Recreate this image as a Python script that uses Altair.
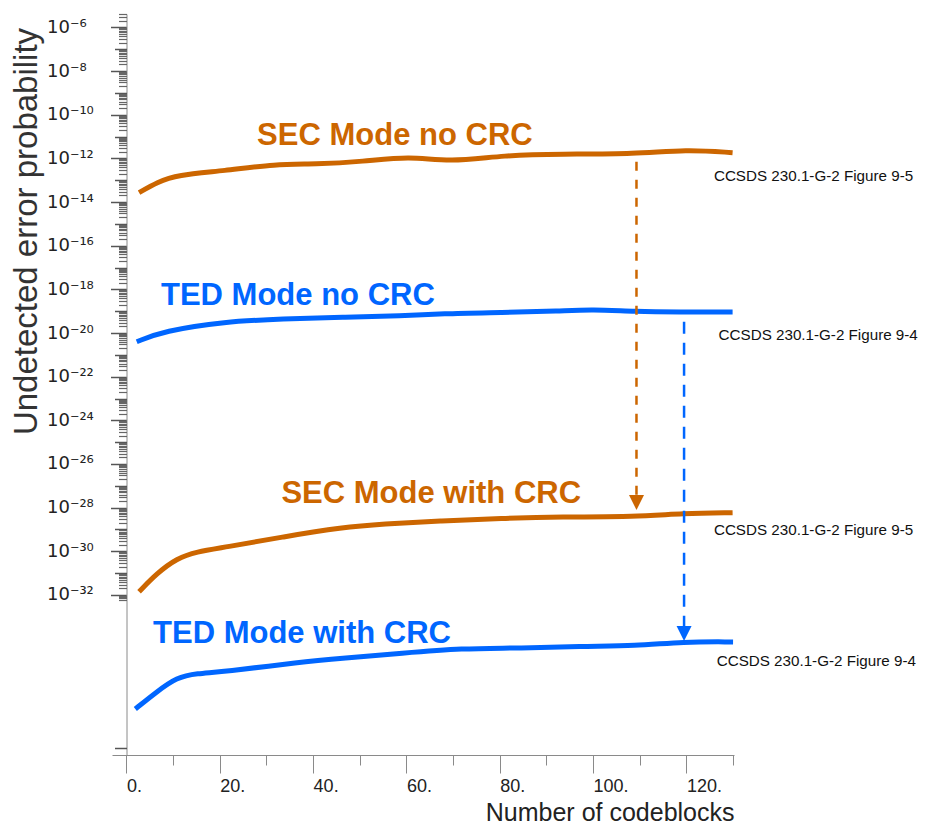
import altair as alt
import pandas as pd

# ---------------- data ----------------
series_names = ["SEC Mode no CRC", "TED Mode no CRC", "SEC Mode with CRC", "TED Mode with CRC"]
series_modes = ["SEC", "TED", "SEC", "TED"]

sec_no_crc_x = [2.7, 6.6, 10.8, 20.9, 32.0, 40.4, 50.6, 60.8, 69.2, 81.1, 93.0, 109.1, 120.0, 129.9]
sec_no_crc_p = [2.69e-14, 8.1e-14, 1.74e-13, 2.69e-13, 5.50e-13, 5.37e-13, 7.08e-13, 1.29e-12,
                6.61e-13, 1.41e-12, 1.58e-12, 1.58e-12, 2.60e-12, 1.82e-12]

ted_no_crc_x = [2.2, 7.9, 21.0, 33.6, 46.3, 59.2, 67.5, 80.2, 93.0, 99.7, 109.1, 118.3, 129.9]
ted_no_crc_p = [3.98e-21, 1.23e-20, 3.39e-20, 4.37e-20, 5.37e-20, 6.03e-20, 7.76e-20, 8.71e-20,
                1.02e-19, 1.20e-19, 9.55e-20, 9.12e-20, 9.12e-20]

sec_crc_x = [2.7, 6.5, 10.8, 15.0, 20.9, 33.7, 46.4, 54.8, 67.6, 80.3, 93.0, 109.1, 119.3, 129.9]
sec_crc_p = [1.41e-32, 9.77e-32, 4.79e-31, 9.55e-31, 1.51e-30, 4.68e-30, 1.26e-29, 1.78e-29,
             2.51e-29, 3.24e-29, 3.80e-29, 3.80e-29, 5.50e-29, 5.89e-29]

ted_crc_x = [1.9, 6.5, 10.8, 15.0, 20.9, 37.3, 46.4, 59.1, 71.8, 84.5, 97.2, 109.1, 119.3, 130.0]
ted_crc_p = [6.03e-38, 3.72e-37, 1.70e-36, 2.57e-36, 3.02e-36, 8.51e-36, 1.26e-35, 2.14e-35,
             3.63e-35, 3.63e-35, 4.57e-35, 4.57e-35, 7.24e-35, 7.08e-35]

# curve labels (text, x in codeblocks, probability at baseline)
curve_label_text = ["SEC Mode no CRC", "TED Mode no CRC", "SEC Mode with CRC", "TED Mode with CRC"]
curve_label_x = [28.0, 7.4, 33.2, 5.7]
curve_label_p = [4.07e-12, 1.91e-19, 1.58e-28, 6.17e-35]

# source notes
note_text = ["CCSDS 230.1-G-2 Figure 9-5", "CCSDS 230.1-G-2 Figure 9-4",
             "CCSDS 230.1-G-2 Figure 9-5", "CCSDS 230.1-G-2 Figure 9-4"]
note_x = [125.9, 126.9, 125.9, 126.5]
note_p = [9.12e-14, 4.79e-21, 5.62e-30, 5.62e-36]

# CRC improvement arrows (dashed shaft + head)
arrow_mode = ["SEC", "TED"]
arrow_x = [109.3, 119.5]
arrow_p_start = [7.08e-13, 3.31e-20]
arrow_p_end = [3.80e-28, 3.55e-34]
arrow_head_p = [1.74e-28, 1.74e-34]

# axis ticks
xtick_major = [0, 20, 40, 60, 80, 100, 120]
xtick_labels = ["0.", "20.", "40.", "60.", "80.", "100.", "120."]
xtick_minor = [10, 30, 50, 70, 90, 110, 130]

ytick_exp = [-6, -8, -10, -12, -14, -16, -18, -20, -22, -24, -26, -28, -30, -32]
ytick_labels = ["10⁻⁶", "10⁻⁸", "10⁻¹⁰", "10⁻¹²", "10⁻¹⁴", "10⁻¹⁶", "10⁻¹⁸",
                "10⁻²⁰", "10⁻²²", "10⁻²⁴", "10⁻²⁶", "10⁻²⁸", "10⁻³⁰", "10⁻³²"]
ytick_odd_exp = [-7, -9, -11, -13, -15, -17, -19, -21, -23, -25, -27, -29, -31, -39]

mode_domain = ["SEC", "TED"]
mode_colors = ["#CC6600", "#0066FF"]

# ---------------- tables ----------------
rows = []
for name, mode, xs_, ps_ in zip(series_names, series_modes,
                                [sec_no_crc_x, ted_no_crc_x, sec_crc_x, ted_crc_x],
                                [sec_no_crc_p, ted_no_crc_p, sec_crc_p, ted_crc_p]):
    for xv, pv in zip(xs_, ps_):
        rows.append({"series": name, "mode": mode, "x": xv, "p": pv})
df = pd.DataFrame(rows)

labels_df = pd.DataFrame({"label": curve_label_text, "mode": series_modes,
                          "x": curve_label_x, "p": curve_label_p})
notes_df = pd.DataFrame({"label": note_text, "x": note_x, "p": note_p})
arrows_df = pd.DataFrame({"mode": arrow_mode, "x": arrow_x, "p": arrow_p_start,
                          "p2": arrow_p_end, "ph": arrow_head_p})

ytick_major_vals = [10.0 ** e for e in ytick_exp]
ytick_odd_vals = [10.0 ** e for e in ytick_odd_exp]
ytick_minor_vals = [m * 10.0 ** e for e in range(-33, -5) for m in range(2, 10)
                    if 6e-33 <= m * 10.0 ** e <= 4.0e-6]

y_label_expr = ""
for e, lab in zip(ytick_exp, ytick_labels):
    y_label_expr += f"round(log(datum.value)/LN10) === {e} ? '{lab}' : "
y_label_expr += "''"
x_label_expr = ""
for v, lab in zip(xtick_major, xtick_labels):
    x_label_expr += f"round(datum.value) === {v} ? '{lab}' : "
x_label_expr += "''"

# ---------------- scales & axes ----------------
FONT = "Liberation Sans"
AXC = "#8a8a8a"
W, H = 622, 741
xsc = alt.Scale(domain=[-3.1, 130.2], nice=False, zero=False)
ysc = alt.Scale(type="log", domain=[4.68e-40, 4.10e-6], nice=False)
csc = alt.Scale(domain=mode_domain, range=mode_colors)

x_major_axis = alt.Axis(orient="bottom", values=xtick_major, labelExpr=x_label_expr, grid=False,
                        tickSize=18, tickColor=AXC, domainColor=AXC, labelAlign="left",
                        labelBaseline="top", labelPadding=4, labelFont=FONT, labelFontSize=18,
                        labelColor="#222222", title="Number of codeblocks", titleFont=FONT,
                        titleFontSize=25, titleFontWeight="normal", titleColor="#222222",
                        titleAnchor="end", titleAlign="right", titleBaseline="alphabetic",
                        titleX=W, titleY=65, labelFlush=False, labelOverlap=False)
x_minor_axis = alt.Axis(orient="bottom", values=xtick_minor, labels=False, domain=False, grid=False,
                        tickSize=10, tickColor=AXC, title=None)

y_major_axis = alt.Axis(orient="left", values=ytick_major_vals, labelExpr=y_label_expr, grid=False,
                        offset=-14.5, tickSize=16, tickColor="#555555", tickWidth=1.5,
                        domainColor=AXC, labelAlign="left", labelBaseline="middle", labelPadding=64,
                        labelFont="DejaVu Sans", labelFontSize=18, labelColor="#222222",
                        labelOverlap=False, labelFlush=False,
                        title="Undetected error probability", titleFont=FONT,
                        titleFontSize=33, titleFontWeight="normal", titleColor="#333333",
                        titleAngle=270, titleAlign="center", titleBaseline="alphabetic",
                        titleX=-90, titleY=217)
y_odd_axis = alt.Axis(orient="left", values=ytick_odd_vals, labels=False, domain=False, grid=False,
                      offset=-14.5, tickSize=12, tickColor="#555555", tickWidth=1.5, title=None)
y_minor_axis = alt.Axis(orient="left", values=ytick_minor_vals, labels=False, domain=False, grid=False,
                        offset=-14.5, tickSize=8, tickColor="#666666", tickWidth=1.2, title=None)

# ---------------- layers ----------------
lines = alt.Chart(df).mark_line(strokeWidth=5, interpolate="basis", strokeCap="butt").encode(
    x=alt.X("x:Q", scale=xsc, axis=x_major_axis),
    y=alt.Y("p:Q", scale=ysc, axis=y_major_axis),
    color=alt.Color("mode:N", scale=csc, legend=None),
    detail="series:N",
)

carrier1 = alt.Chart(df).mark_line(opacity=0).encode(
    x=alt.X("x:Q", scale=xsc, axis=x_minor_axis),
    y=alt.Y("p:Q", scale=ysc, axis=y_odd_axis),
    detail="series:N",
)
carrier2 = alt.Chart(df).mark_line(opacity=0).encode(
    x=alt.X("x:Q", scale=xsc, axis=None),
    y=alt.Y("p:Q", scale=ysc, axis=y_minor_axis),
    detail="series:N",
)

sec_arrow = alt.Chart(arrows_df).transform_filter("datum.mode === 'SEC'").mark_rule(
    strokeWidth=2.5, strokeDash=[9, 9]).encode(
    x=alt.X("x:Q", scale=xsc, axis=None),
    y=alt.Y("p:Q", scale=ysc, axis=None), y2="p2:Q",
    color=alt.Color("mode:N", scale=csc, legend=None))
ted_arrow = alt.Chart(arrows_df).transform_filter("datum.mode === 'TED'").mark_rule(
    strokeWidth=2.5, strokeDash=[12, 9]).encode(
    x=alt.X("x:Q", scale=xsc, axis=None),
    y=alt.Y("p:Q", scale=ysc, axis=None), y2="p2:Q",
    color=alt.Color("mode:N", scale=csc, legend=None))
heads = alt.Chart(arrows_df).mark_point(shape="M-1,-1L1,-1L0,1Z", size=225, filled=True, opacity=1).encode(
    x=alt.X("x:Q", scale=xsc, axis=None),
    y=alt.Y("ph:Q", scale=ysc, axis=None),
    color=alt.Color("mode:N", scale=csc, legend=None))

curve_labels = alt.Chart(labels_df).mark_text(align="left", baseline="alphabetic", font=FONT,
                                              fontWeight="bold", fontSize=31).encode(
    x=alt.X("x:Q", scale=xsc, axis=None),
    y=alt.Y("p:Q", scale=ysc, axis=None),
    text="label:N",
    color=alt.Color("mode:N", scale=csc, legend=None))

notes = alt.Chart(notes_df).mark_text(align="left", baseline="alphabetic", font=FONT,
                                      fontSize=15.2, color="#111111").encode(
    x=alt.X("x:Q", scale=xsc, axis=None),
    y=alt.Y("p:Q", scale=ysc, axis=None),
    text="label:N")

chart = alt.layer(lines, carrier1, carrier2, sec_arrow, ted_arrow, heads, curve_labels, notes).resolve_axis(
    x="independent", y="independent"
).properties(
    width=W, height=H,
    autosize=alt.AutoSizeParams(type="none"),
    padding={"left": 104, "top": 6, "right": 184, "bottom": 71},
    background="white",
).configure_view(stroke=None)

chart.save("out.html", embed_options={"renderer": "svg", "actions": False})
